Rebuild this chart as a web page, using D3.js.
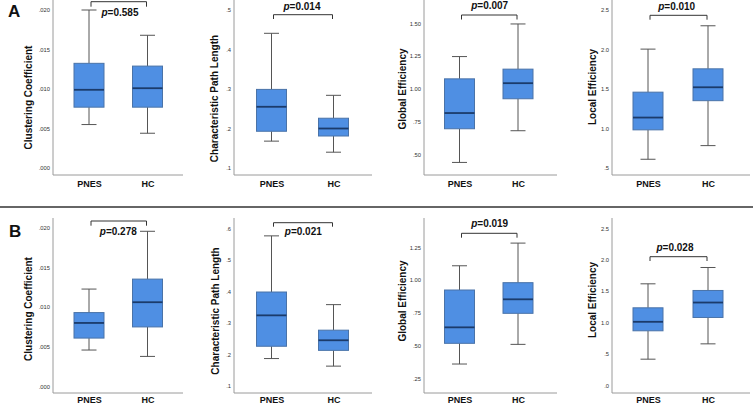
<!DOCTYPE html>
<html><head><meta charset="utf-8">
<script src="https://cdn.jsdelivr.net/npm/d3@7"></script>
<style>body{margin:0;background:#fff}svg{display:block}text{font-family:"Liberation Sans",Arial,sans-serif}</style>
</head><body><svg id="c" width="753" height="405"></svg>
<script>
const categories = ["PNES", "HC"];
const metrics = ["Clustering Coefficient", "Characteristic Path Length", "Global Efficiency", "Local Efficiency"];
// five-number summaries: [whisker low, Q1, median, Q3, whisker high]
const rowA_PNES = [[0.0055, 0.0077, 0.0099, 0.01325, 0.0200], [0.168, 0.193, 0.255, 0.299, 0.441], [0.438, 0.695, 0.815, 1.076, 1.246], [0.607, 0.98, 1.136, 1.458, 2.004]];
const rowA_HC   = [[0.0044, 0.0077, 0.0101, 0.0129, 0.0168], [0.140, 0.181, 0.200, 0.226, 0.284], [0.680, 0.924, 1.043, 1.150, 1.495], [0.780, 1.35, 1.520, 1.754, 2.300]];
const rowB_PNES = [[0.0046, 0.0061, 0.0080, 0.0093, 0.01225], [0.187, 0.226, 0.324, 0.398, 0.576], [0.359, 0.517, 0.639, 0.924, 1.109], [0.416, 0.868, 1.011, 1.234, 1.616]];
const rowB_HC   = [[0.0038, 0.0075, 0.0106, 0.0135, 0.0195], [0.163, 0.213, 0.245, 0.277, 0.358], [0.509, 0.746, 0.853, 0.980, 1.282], [0.660, 1.08, 1.318, 1.510, 1.876]];
const pA = ["0.585", "0.014", "0.007", "0.010"];
const pB = ["0.278", "0.021", "0.019", "0.028"];
const ticksA = [[0, 0.005, 0.010, 0.015, 0.020], [0.1, 0.2, 0.3, 0.4, 0.5], [0.5, 0.75, 1.0, 1.25, 1.5], [0.5, 1.0, 1.5, 2.0, 2.5]];
const tickLabelsA = [[".000", ".005", ".010", ".015", ".020"], [".1", ".2", ".3", ".4", ".5"], [".50", ".75", "1.00", "1.25", "1.50"], [".5", "1.0", "1.5", "2.0", "2.5"]];
const ticksB = [[0, 0.005, 0.010, 0.015, 0.020], [0.1, 0.2, 0.3, 0.4, 0.5, 0.6], [0.25, 0.5, 0.75, 1.0, 1.25], [0, 0.5, 1.0, 1.5, 2.0, 2.5]];
const tickLabelsB = [[".000", ".005", ".010", ".015", ".020"], [".1", ".2", ".3", ".4", ".5", ".6"], [".25", ".50", ".75", "1.00", "1.25"], [".0", ".5", "1.0", "1.5", "2.0", "2.5"]];
const rowLabels = ["A", "B"];

// ---- layout (pixels) ----
const colAxisX = [53, 234, 424, 612];
const colAxisR = [183, 372, 557, 750];
const colC1 = [89, 271.5, 459.5, 648];
const colC2 = [147.5, 333.5, 518, 708];
const boxW = 30;
const rows = [
  { pn: rowA_PNES, hc: rowA_HC, p: pA, ticks: ticksA, tl: tickLabelsA, top: 0, bottom: 175,
    tickPx: [[168, 10], [168, 10], [154.3, 23.3], [167.7, 10]],
    titleXY: [[28, 97.5], [214.5, 98.5], [402, 89], [592, 87]],
    pXY: [[120, 15.5], [302, 9.5], [489.7, 9], [676.7, 9.5]],
    br: [[1.7, 6.7], [14.7, 19], [15, 19.5], [15.3, 19.7]],
    catY: 187, letterXY: [8, 17] },
  { pn: rowB_PNES, hc: rowB_HC, p: pB, ticks: ticksB, tl: tickLabelsB, top: 218, bottom: 393,
    tickPx: [[386.7, 227.3], [386, 228.3], [378.3, 247.3], [385.3, 228.3]],
    titleXY: [[28.5, 309], [215.5, 311], [402, 301], [592, 300]],
    pXY: [[118.3, 235], [303.3, 234.5], [489.7, 226.5], [675, 250.5]],
    br: [[221, 225.7], [222.7, 226.7], [233.3, 237.7], [256.7, 261]],
    catY: 403, letterXY: [9, 237] }
];

const svg = d3.select("#c");
svg.append("rect").attr("width", 753).attr("height", 405).attr("fill", "#fff");
// separator
svg.append("line").attr("x1", 0).attr("x2", 753).attr("y1", 207).attr("y2", 207)
  .attr("stroke", "#333").attr("stroke-width", 1.6);

rows.forEach((r, ri) => {
  svg.append("text").attr("x", r.letterXY[0]).attr("y", r.letterXY[1])
    .attr("font-size", 17).attr("font-weight", "bold").attr("fill", "#111").text(rowLabels[ri]);
  for (let k = 0; k < 4; k++) {
    const g = svg.append("g");
    const t = r.ticks[k];
    const y = d3.scaleLinear().domain([t[0], t[t.length - 1]]).range(r.tickPx[k]);
    const x = d3.scalePoint().domain(categories).range([colC1[k], colC2[k]]);
    // axes lines
    g.append("line").attr("x1", colAxisX[k]).attr("x2", colAxisX[k]).attr("y1", r.top).attr("y2", r.bottom)
      .attr("stroke", "#9a9a9a").attr("stroke-width", 1);
    g.append("line").attr("x1", colAxisX[k]).attr("x2", colAxisR[k]).attr("y1", r.bottom).attr("y2", r.bottom)
      .attr("stroke", "#9a9a9a").attr("stroke-width", 1);
    const ya = d3.axisLeft(y).tickValues(t).tickSize(0).tickPadding(3)
      .tickFormat((d, i) => r.tl[k][i]);
    const ag = g.append("g").attr("transform", `translate(${colAxisX[k]},0)`).call(ya);
    ag.select(".domain").remove();
    ag.selectAll("text").attr("font-size", 5.8).attr("fill", "#333")
      .attr("font-family", "'Liberation Sans',Arial,sans-serif");
    // category labels
    const xa = d3.axisBottom(x).tickSize(0).tickPadding(0);
    const xg = g.append("g").attr("transform", `translate(0,${r.catY})`).call(xa);
    xg.select(".domain").remove();
    xg.selectAll("text").attr("dy", 0).attr("font-size", 9).attr("font-weight", "bold").attr("fill", "#111")
      .attr("font-family", "'Liberation Sans',Arial,sans-serif");
    // y title
    g.append("text").attr("transform", `translate(${r.titleXY[k][0] + 3.6},${r.titleXY[k][1]}) rotate(-90)`)
      .attr("text-anchor", "middle").attr("font-size", 10).attr("font-weight", "bold").attr("fill", "#111")
      .text(metrics[k]);
    // boxes
    const data = [{ c: "PNES", v: r.pn[k] }, { c: "HC", v: r.hc[k] }];
    data.forEach(d => {
      const cx = x(d.c), v = d.v;
      const ws = "#555";
      g.append("line").attr("x1", cx).attr("x2", cx).attr("y1", y(v[4])).attr("y2", y(v[3])).attr("stroke", ws).attr("stroke-width", 1);
      g.append("line").attr("x1", cx).attr("x2", cx).attr("y1", y(v[1])).attr("y2", y(v[0])).attr("stroke", ws).attr("stroke-width", 1);
      g.append("line").attr("x1", cx - 7.5).attr("x2", cx + 7.5).attr("y1", y(v[4])).attr("y2", y(v[4])).attr("stroke", ws).attr("stroke-width", 1);
      g.append("line").attr("x1", cx - 7.5).attr("x2", cx + 7.5).attr("y1", y(v[0])).attr("y2", y(v[0])).attr("stroke", ws).attr("stroke-width", 1);
      g.append("rect").attr("x", cx - boxW / 2).attr("width", boxW).attr("y", y(v[3])).attr("height", y(v[1]) - y(v[3]))
        .attr("fill", "#4f8fe3").attr("stroke", "#4a73a8").attr("stroke-width", 1);
      g.append("line").attr("x1", cx - boxW / 2).attr("x2", cx + boxW / 2).attr("y1", y(v[2])).attr("y2", y(v[2]))
        .attr("stroke", "#1b3b6b").attr("stroke-width", 1.8);
    });
    // bracket
    const bx1 = x("PNES") + 2, bx2 = x("HC") - 1;
    g.append("path").attr("d", `M${bx1},${r.br[k][1]}V${r.br[k][0]}H${bx2}V${r.br[k][1]}`)
      .attr("fill", "none").attr("stroke", "#333").attr("stroke-width", 1);
    const pt = g.append("text").attr("x", r.pXY[k][0]).attr("y", r.pXY[k][1]).attr("text-anchor", "middle")
      .attr("font-size", 10).attr("font-weight", "bold").attr("fill", "#111");
    pt.append("tspan").attr("font-style", "italic").text("p");
    pt.append("tspan").text("=" + r.p[k]);
  }
});
</script></body></html>
